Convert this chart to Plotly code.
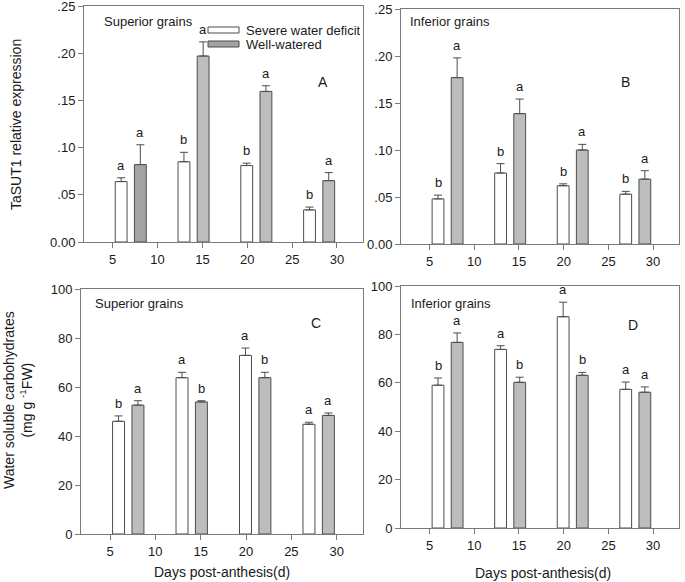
import plotly.graph_objects as go

# ---------------- data ----------------
days = [7, 14, 21, 28]
x_ticks = [5, 10, 15, 20, 25, 30]
series_names = ["Severe water deficit", "Well-watered"]

# Panel A: TaSUT1 relative expression, superior grains
a_deficit = [0.064, 0.085, 0.081, 0.034]
a_deficit_err = [0.004, 0.010, 0.0025, 0.003]
a_well = [0.082, 0.197, 0.1595, 0.065]
a_well_err = [0.021, 0.015, 0.006, 0.0085]
a_deficit_letters = ["a", "b", "b", "b"]
a_well_letters = ["a", "a", "a", "a"]

# Panel B: TaSUT1 relative expression, inferior grains
b_deficit = [0.048, 0.0755, 0.062, 0.053]
b_deficit_err = [0.004, 0.010, 0.002, 0.003]
b_well = [0.177, 0.1387, 0.100, 0.069]
b_well_err = [0.021, 0.0155, 0.006, 0.009]
b_deficit_letters = ["b", "b", "b", "b"]
b_well_letters = ["a", "a", "a", "a"]

# Panel C: water soluble carbohydrates, superior grains
c_deficit = [46.0, 63.8, 72.9, 44.8]
c_deficit_err = [2.2, 2.2, 3.0, 0.8]
c_well = [52.6, 53.9, 63.8, 48.4]
c_well_err = [1.8, 0.5, 2.2, 1.0]
c_deficit_letters = ["b", "a", "a", "a"]
c_well_letters = ["a", "b", "b", "a"]

# Panel D: water soluble carbohydrates, inferior grains
d_deficit = [59.0, 73.8, 87.3, 57.3]
d_deficit_err = [3.0, 1.5, 6.0, 3.0]
d_well = [76.7, 60.2, 63.1, 56.1]
d_well_err = [3.9, 2.1, 1.2, 2.2]
d_deficit_letters = ["b", "a", "a", "a"]
d_well_letters = ["a", "b", "b", "a"]

expr_ticks = [0, 0.05, 0.10, 0.15, 0.20, 0.25]
expr_ticktext = ["0.00", ".05", ".10", ".15", ".20", ".25"]
wsc_ticks = [0, 20, 40, 60, 80, 100]

# ---------------- layout helpers ----------------
W, H = 685, 582
FONT = "Arial, Liberation Sans, sans-serif"
TXT = "#1a1a1a"
LINE = "#7a7a7a"
EDGE = "#4d4d4d"
WHITE_FILL = "#ffffff"
GREY_FILL = "#bdbdbd"

def px(x):
    return x / W

def py(y):
    return 1 - y / H

BAR_W = 1.32
OFF_DEF = -1.72
OFF_WELL = 0.42

panels = [
    dict(key="", xd=(84, 363), yd=(6, 242), yr=[0, 0.25], tv=expr_ticks, tt=expr_ticktext,
         dv=a_deficit, de=a_deficit_err, wv=a_well, we=a_well_err,
         dl=a_deficit_letters, wl=a_well_letters,
         wcol=["#a3a3a3", GREY_FILL, GREY_FILL, GREY_FILL],
         title="Superior grains", tpos=(102, 22), letter="A", lpos=(323, 82)),
    dict(key="2", xd=(401, 679), yd=(9, 244), yr=[0, 0.25], tv=expr_ticks, tt=expr_ticktext,
         dv=b_deficit, de=b_deficit_err, wv=b_well, we=b_well_err,
         dl=b_deficit_letters, wl=b_well_letters,
         wcol=[GREY_FILL] * 4,
         title="Inferior grains", tpos=(408, 22), letter="B", lpos=(625, 82)),
    dict(key="3", xd=(81, 363), yd=(289, 534), yr=[0, 100], tv=wsc_ticks, tt=[str(v) for v in wsc_ticks],
         dv=c_deficit, de=c_deficit_err, wv=c_well, we=c_well_err,
         dl=c_deficit_letters, wl=c_well_letters,
         wcol=[GREY_FILL] * 4,
         title="Superior grains", tpos=(93, 303), letter="C", lpos=(316, 323)),
    dict(key="4", xd=(401, 679), yd=(286, 528), yr=[0, 100], tv=wsc_ticks, tt=[str(v) for v in wsc_ticks],
         dv=d_deficit, de=d_deficit_err, wv=d_well, we=d_well_err,
         dl=d_deficit_letters, wl=d_well_letters,
         wcol=[GREY_FILL] * 4,
         title="Inferior grains", tpos=(409, 303), letter="D", lpos=(633, 325)),
]

fig = go.Figure()
annotations = []
layout_axes = {}

def note(x, y, text, size=13, xanchor="center", yanchor="middle", angle=0):
    return dict(x=px(x), y=py(y), xref="paper", yref="paper", text=text, showarrow=False,
                xanchor=xanchor, yanchor=yanchor, textangle=angle,
                font=dict(family=FONT, size=size, color=TXT))

for p in panels:
    k = p["key"]
    xa, ya = "x" + k, "y" + k
    fig.add_trace(go.Bar(
        x=days, y=p["dv"], xaxis=xa, yaxis=ya, name=series_names[0],
        offset=OFF_DEF, width=BAR_W,
        marker=dict(color=WHITE_FILL, line=dict(color=EDGE, width=1)),
        error_y=dict(type="data", array=p["de"], arrayminus=[0] * len(days), symmetric=False,
                     color=EDGE, thickness=1, width=4),
        showlegend=False,
    ))
    fig.add_trace(go.Bar(
        x=days, y=p["wv"], xaxis=xa, yaxis=ya, name=series_names[1],
        offset=OFF_WELL, width=BAR_W,
        marker=dict(color=p["wcol"], line=dict(color=EDGE, width=1)),
        error_y=dict(type="data", array=p["we"], arrayminus=[0] * len(days), symmetric=False,
                     color=EDGE, thickness=1, width=4),
        showlegend=False,
    ))
    # significance letters
    for d, v, e, l in zip(days, p["dv"], p["de"], p["dl"]):
        annotations.append(dict(x=d + OFF_DEF + BAR_W / 2, y=v + e, xref=xa, yref=ya, text=l,
                                showarrow=False, xanchor="center", yanchor="bottom", yshift=3,
                                font=dict(family=FONT, size=13, color=TXT)))
    for d, v, e, l in zip(days, p["wv"], p["we"], p["wl"]):
        annotations.append(dict(x=d + OFF_WELL + BAR_W / 2, y=v + e, xref=xa, yref=ya, text=l,
                                showarrow=False, xanchor="center", yanchor="bottom", yshift=3,
                                font=dict(family=FONT, size=13, color=TXT)))
    # panel labels
    annotations.append(note(p["tpos"][0], p["tpos"][1], p["title"], 13, xanchor="left"))
    annotations.append(note(p["lpos"][0], p["lpos"][1], p["letter"], 14))

    axis_common = dict(showline=True, mirror=True, linecolor=LINE, linewidth=1,
                       ticks="outside", ticklen=5, tickcolor=LINE, tickwidth=1,
                       showgrid=False, zeroline=False, automargin=False,
                       ticklabeloverflow="allow",
                       tickfont=dict(family=FONT, size=13, color=TXT))
    layout_axes["xaxis" + k] = dict(axis_common, domain=[px(p["xd"][0]), px(p["xd"][1])],
                                    range=[1.8, 32.9], tickvals=x_ticks, anchor=ya)
    layout_axes["yaxis" + k] = dict(axis_common, domain=[py(p["yd"][1]), py(p["yd"][0])],
                                    range=p["yr"], tickvals=p["tv"], ticktext=p["tt"], anchor=xa)

# axis titles
annotations.append(note(16, 125, "TaSUT1 relative expression", 14, angle=-90))
annotations.append(note(18, 400, "Water soluble carbohydrates<br>(mg g <sup>-1</sup>FW)", 14, angle=-90))
annotations.append(note(222, 572, "Days post-anthesis(d)", 14))
annotations.append(note(543, 573, "Days post-anthesis(d)", 14))

# legend (drawn inside panel A)
shapes = [
    dict(type="rect", xref="paper", yref="paper", x0=px(208), x1=px(239), y0=py(33), y1=py(27),
         fillcolor=WHITE_FILL, line=dict(color=EDGE, width=1)),
    dict(type="rect", xref="paper", yref="paper", x0=px(208), x1=px(239), y0=py(47), y1=py(41),
         fillcolor="#a3a3a3", line=dict(color=EDGE, width=1)),
]
annotations.append(note(244, 30, series_names[0], 13, xanchor="left"))
annotations.append(note(244, 45, series_names[1], 13, xanchor="left"))

fig.update_layout(
    width=W, height=H,
    margin=dict(l=0, r=0, t=0, b=0, pad=0, autoexpand=False),
    paper_bgcolor="white", plot_bgcolor="white",
    barmode="overlay",
    showlegend=False,
    annotations=annotations,
    shapes=shapes,
    **layout_axes,
)

fig.write_html(
    "out.html",
    config={"displayModeBar": False},
    post_script="document.body.style.margin='0';document.body.style.padding='0';"
                "document.body.style.overflow='hidden';",
)
